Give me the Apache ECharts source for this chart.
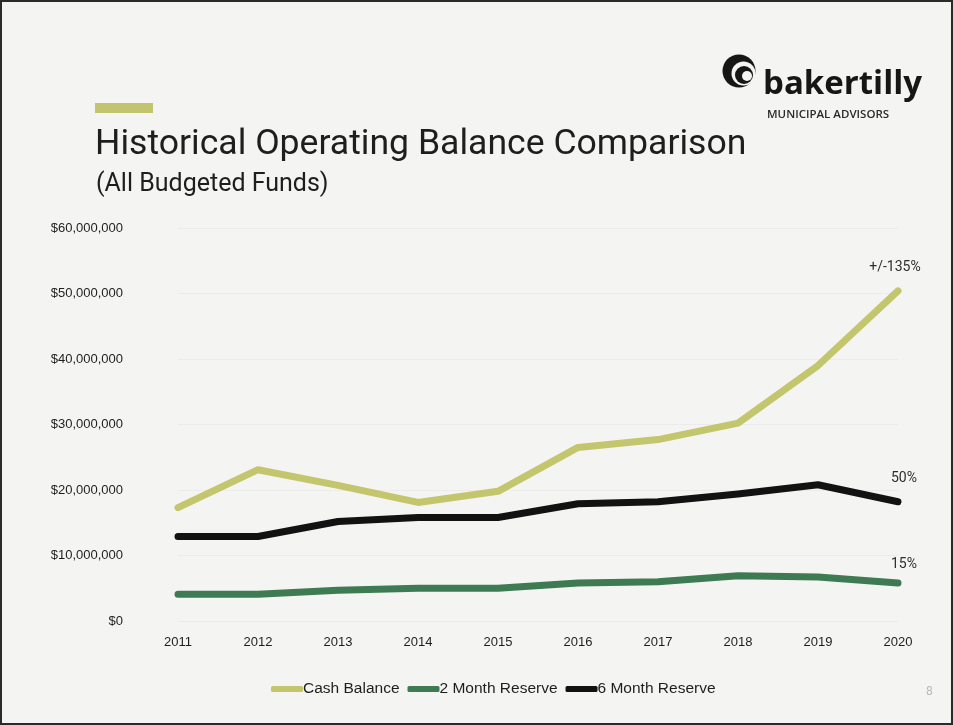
<!DOCTYPE html>
<html>
<head>
<meta charset="utf-8">
<script src="https://cdn.jsdelivr.net/npm/echarts@6/dist/echarts.min.js"></script>
<style>
  html, body { margin: 0; padding: 0; background: #f4f4f3; }
  #chart { width: 953px; height: 725px; }
</style>
</head>
<body>
<div id="chart"></div>
<script>
// Fiscal years on the horizontal axis
const years = ['2011', '2012', '2013', '2014', '2015', '2016', '2017', '2018', '2019', '2020'];

// Balances in dollars
const cashBalance = [17300000, 23100000, 20700000, 18100000, 19800000, 26500000, 27700000, 30200000, 39000000, 50400000];
const twoMonthReserve = [4100000, 4100000, 4700000, 5000000, 5000000, 5800000, 6000000, 6900000, 6700000, 5800000];
const sixMonthReserve = [12900000, 12900000, 15200000, 15800000, 15800000, 17900000, 18200000, 19400000, 20800000, 18200000];

// Percentages noted beside the 2020 values
const endNotes = ['+/-135%', '15%', '50%'];

const seriesNames = ['Cash Balance', '2 Month Reserve', '6 Month Reserve'];
const colors = ['#c3c66c', '#3e7b52', '#121212'];

function endNote(note, dx, dy) {
  return {
    show: true, formatter: note, align: 'center', verticalAlign: 'bottom', offset: [dx, dy],
    color: '#2e2e2e', fontSize: 14, fontFamily: 'Roboto, sans-serif'
  };
}

const chart = echarts.init(document.getElementById('chart'));

chart.setOption({
  backgroundColor: '#f4f4f3',
  animation: false,
  grid: { left: 178, right: 55, top: 228, bottom: 104 },
  xAxis: {
    type: 'category',
    data: years,
    boundaryGap: false,
    axisLine: { show: false },
    axisTick: { show: false },
    axisLabel: { color: '#1e1e1e', fontSize: 13, fontFamily: 'Liberation Sans, Arial, sans-serif', margin: 15 }
  },
  yAxis: {
    type: 'value',
    min: 0,
    max: 60000000,
    interval: 10000000,
    axisLine: { show: false },
    axisTick: { show: false },
    splitLine: { lineStyle: { color: '#ebebea', width: 1 } },
    axisLabel: {
      color: '#1e1e1e', fontSize: 13, fontFamily: 'Liberation Sans, Arial, sans-serif', margin: 55,
      formatter: v => '$' + v.toLocaleString('en-US')
    }
  },
  legend: {
    bottom: 23,
    left: 266,
    itemWidth: 32,
    itemHeight: 6,
    itemGap: 8,
    icon: 'roundRect',
    textStyle: { color: '#1e1e1e', fontSize: 15.5, fontFamily: 'Liberation Sans, Arial, sans-serif', padding: [0, 0, 0, -5] },
    data: seriesNames
  },
  series: [
    {
      name: seriesNames[0], type: 'line', data: cashBalance, showSymbol: false,
      color: colors[0], lineStyle: { width: 7, cap: 'round', join: 'round' },
      endLabel: endNote(endNotes[0], -11, -16)
    },
    {
      name: seriesNames[1], type: 'line', data: twoMonthReserve, showSymbol: false,
      color: colors[1], lineStyle: { width: 7, cap: 'round', join: 'round' },
      endLabel: endNote(endNotes[1], -2, -12)
    },
    {
      name: seriesNames[2], type: 'line', data: sixMonthReserve, showSymbol: false,
      color: colors[2], lineStyle: { width: 7, cap: 'round', join: 'round' },
      endLabel: endNote(endNotes[2], -2, -16)
    }
  ],
  graphic: [
    // page frame
    { type: 'rect', shape: { x: 1, y: 1, width: 951, height: 723 }, style: { fill: 'none', stroke: '#2a2a2a', lineWidth: 2 }, silent: true },
    // accent bar above the title
    { type: 'rect', shape: { x: 95, y: 103, width: 58, height: 10 }, style: { fill: '#c3c46e' } },
    { type: 'text', left: 95, top: 127, style: { text: 'Historical Operating Balance Comparison', fill: '#1e1e1e', font: '35.6px Roboto, sans-serif' } },
    { type: 'text', left: 96, top: 172, style: { text: '(All Budgeted Funds)', fill: '#1e1e1e', font: '25px Roboto, sans-serif' } },
    // logo mark
    { type: 'circle', shape: { cx: 739, cy: 71, r: 16.5 }, style: { fill: '#161616' } },
    { type: 'circle', shape: { cx: 743.5, cy: 73.5, r: 12 }, style: { fill: '#f4f4f3' } },
    { type: 'circle', shape: { cx: 744, cy: 75, r: 9 }, style: { fill: '#161616' } },
    { type: 'circle', shape: { cx: 747, cy: 76, r: 5 }, style: { fill: '#f4f4f3' } },
    { type: 'text', left: 763, top: 68, style: { text: 'bakertilly', fill: '#161616', font: 'bold 33px "Open Sans", sans-serif' } },
    { type: 'text', left: 767, top: 109, style: { text: 'MUNICIPAL ADVISORS', fill: '#2a2a2a', font: '600 11.5px "Open Sans", sans-serif' } },
    // page number
    { type: 'text', left: 926, top: 686, style: { text: '8', fill: '#b8b8b8', font: '12px Roboto, sans-serif' } }
  ]
});
</script>
</body>
</html>
